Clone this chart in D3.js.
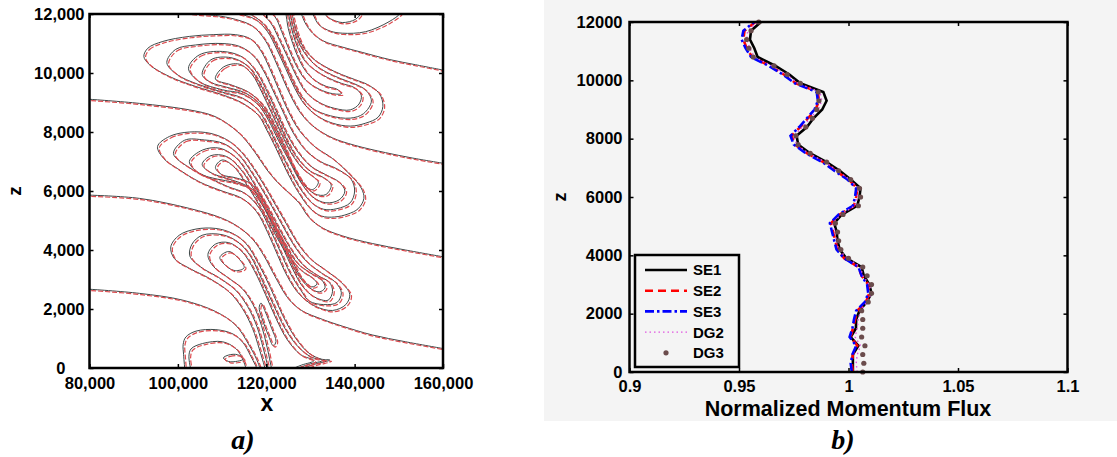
<!DOCTYPE html>
<html lang="en">
<head>
<meta charset="UTF-8">
<title>Contours and normalized momentum flux</title>
<script src="https://cdn.jsdelivr.net/npm/d3@7"></script>
<style>
  body { margin: 0; background: #fff; }
  svg { display: block; font-family: "Liberation Sans", Arial, Helvetica, sans-serif; }
  .tick text { font-weight: bold; font-size: 16.5px; fill: #000; }
  .tick line { stroke: #000; stroke-width: 1.5px; }
  .frame { fill: none; stroke: #000; stroke-width: 2.5px; }
  .cblack { fill: none; stroke: #3e4848; stroke-width: 1px; }
  .cred { fill: none; stroke: #dc4a4e; stroke-width: 1.2px; stroke-dasharray: 5,2; }
</style>
</head>
<body>
<script>
// ---- panel a: contour lines, [x km, z km] ----
var openContours = [
  [[80,9.11],[91.3,8.97],[102.6,8.75],[108,8.55],[111.5,8.25],[114.6,7.85],[117.5,7.3],[120,6.75],[122.5,6.3],[125,5.95],[127.4,5.6],[129.7,5.1],[132.7,4.75],[137.2,4.48],[144,4.22],[151.5,4.0],[160,3.77]],
  [[80,5.86],[91.3,5.75],[102.6,5.41],[110.1,5.07],[114,4.75],[117,4.35],[119.5,3.8],[122,3.1],[125,2.35],[128,1.95],[132.7,1.65],[137.2,1.42],[144,1.12],[151.5,0.89],[160,0.66]],
  [[80,2.67],[91.3,2.53],[101.1,2.3],[108.6,1.91],[113.1,1.45],[116.1,0.78],[117.8,0.3],[118.8,-0.1]],
  [[95,12.2],[99,12.1],[104,12.0],[108.5,11.95],[113,11.82],[117,11.58],[119.8,11.1],[121.8,10.5],[123.8,9.8],[125.8,9.15],[128,8.6],[131,8.15],[135,7.8],[140,7.55],[147,7.3],[153,7.12],[160,6.94]],
  [[127.5,12.2],[128.8,11.7],[130.5,11.35],[133,11.08],[137.2,10.88],[141.7,10.7],[147.8,10.46],[153.8,10.28],[160,10.1]],
  [[109,12.2],[113.5,12.02],[117.5,11.82],[120.3,11.4],[122.4,10.8],[124.4,10.15],[126.4,9.5],[128.6,8.95],[131.5,8.55],[135,8.3],[139,8.2],[142.5,8.3],[145.3,8.5],[146.4,8.87],[145.6,9.3],[143,9.6],[140.2,9.77],[137,9.95],[133.5,10.2],[130.5,10.5],[128.3,10.9],[126.9,11.4],[126,11.9],[125.6,12.2]],
  [[112,12.2],[116,12.02],[119.3,11.68],[121.7,11.15],[123.7,10.5],[125.6,9.87],[127.8,9.25],[130.5,8.8],[134.5,8.55],[139,8.47],[142,8.62],[143.8,9.05],[142.5,9.42],[140,9.63],[137,9.8],[133.6,10.03],[131,10.28],[129.3,10.55],[127.6,10.95],[126.4,11.4],[125.6,11.9],[125.25,12.2]],
  [[114.5,12.2],[118.5,12.05],[121,11.7],[122.9,11.15],[124.8,10.55],[126.8,9.9],[129,9.35],[132,9.0],[135.5,8.8],[139,8.75],[141,8.95],[141.5,9.25],[140,9.5],[137,9.65],[133.8,9.85],[131,10.1],[128.8,10.4],[127.3,10.8],[126.1,11.3],[125.3,11.8],[124.9,12.2]],
  [[119.5,12.2],[122,11.9],[123.5,11.4],[125,10.85],[126.8,10.25],[129,9.75],[132,9.45],[135,9.3],[137,9.3],[136,9.45],[133.5,9.55],[131,9.75],[129,10.05],[127.3,10.5],[126,11.0],[125,11.5],[124.3,12.2]],
  [[129.7,12.2],[130.5,12.0],[131.96,11.63],[134.5,11.42],[137.2,11.35],[142.5,11.4],[147.8,11.74],[150.4,12.03],[150.8,12.2]],
  [[132.7,12.2],[133.5,11.95],[134.5,11.84],[137.2,11.71],[140.2,11.82],[141.4,12.03],[141.6,12.2]],
  [[119.9,-0.1],[118.4,0.66],[116.9,1.34],[114.6,2.02],[111.6,2.58],[107.1,3.04],[102.6,3.38],[99.2,3.71],[98.4,4.11],[100.3,4.5],[104.1,4.71],[108.6,4.73],[112.4,4.56],[115.4,4.22],[118.4,3.49],[121,2.7],[123.7,1.79],[126.7,1.0],[129.7,0.5],[132.5,0.3],[134.4,0.27],[131,0.13],[127.5,-0.05]],
  [[120.6,-0.1],[119.3,0.68],[117.9,1.4],[115.8,2.08],[113,2.65],[109.2,3.07],[105.2,3.42],[102.7,3.8],[103.2,4.2],[105.5,4.5],[110,4.52],[113.5,4.28],[116.4,3.8],[119,3.0],[121.6,2.15],[124.2,1.35],[127.2,0.72],[130.2,0.37],[132.8,0.26],[129.5,0.12],[126.5,-0.05]],
  [[121.3,-0.1],[120.2,0.7],[118.9,1.45],[117,2.15],[114.5,2.7],[111,3.1],[108,3.45],[106.8,3.85],[108.5,4.2],[111.5,4.25],[114.5,3.95],[117.3,3.3],[119.8,2.5],[122.3,1.65],[124.8,0.95],[127.8,0.45],[130.8,0.25],[128,0.1],[125.5,-0.05]],
  [[118.2,-0.1],[116.5,0.4],[114.8,0.85],[112.5,1.15],[108.6,1.3],[104.1,1.25],[101.8,1.05],[101.2,0.8],[101.3,0.45],[101.6,-0.1]],
  [[115.6,-0.1],[114.6,0.32],[113.1,0.66],[110.1,0.89],[105.6,0.83],[103,0.65],[102.5,0.4],[103,-0.1]]
];

var closedContours = [
  [[92.3,10.56],[93.2,10.84],[96.6,11.07],[102.6,11.24],[108,11.3],[113,11.3],[116.5,11.15],[118.8,10.75],[120.8,10.15],[122.8,9.45],[125,8.7],[127.5,8.05],[131,7.5],[135,7.1],[139,6.55],[141.5,6.1],[142.1,5.75],[140.8,5.4],[138.5,5.22],[135.5,5.12],[132.5,5.15],[130,5.4],[127.3,5.95],[124.7,6.65],[122.2,7.45],[120,8.1],[118.3,8.55],[114.6,8.98],[110.1,9.26],[104.1,9.54],[98.1,9.88],[93.6,10.28]],
  [[97.5,10.35],[99.5,10.8],[104,10.95],[110,11.0],[114,10.9],[117,10.6],[119.3,10.1],[121.4,9.45],[123.6,8.75],[126,8.0],[128.8,7.4],[132.2,7.0],[136,6.75],[139.2,6.4],[140,6.0],[139,5.6],[136,5.4],[133,5.38],[130.3,5.6],[127.6,6.1],[125,6.8],[122.5,7.55],[120.2,8.25],[118.1,8.75],[114.6,9.15],[110.1,9.35],[104.5,9.62],[99.8,9.95]],
  [[102.4,10.16],[104.8,10.61],[110.1,10.73],[114.5,10.55],[117.5,10.1],[119.8,9.5],[122,8.8],[124.3,8.05],[126.8,7.4],[130,6.85],[133.5,6.55],[136.5,6.3],[137.8,6.0],[136.5,5.7],[133.5,5.6],[130.5,5.8],[127.8,6.3],[125.3,7.0],[122.8,7.7],[120.5,8.4],[118,8.95],[114.5,9.3],[110.1,9.43],[104.8,9.71]],
  [[105.5,9.95],[107.5,10.45],[112,10.52],[115.7,10.25],[118.3,9.72],[120.5,9.07],[122.7,8.37],[124.9,7.65],[127.3,7.07],[130,6.67],[133,6.45],[134.7,6.2],[133.5,5.88],[131,5.9],[128.5,6.25],[126.1,6.85],[123.6,7.57],[121.2,8.3],[118.7,8.92],[115.3,9.32],[111,9.52],[107.5,9.68]],
  [[108.5,9.8],[110.3,10.2],[113.9,10.3],[116.8,9.95],[119,9.35],[121.2,8.65],[123.4,7.95],[125.8,7.25],[128.3,6.75],[130.5,6.5],[131.8,6.3],[130.5,6.05],[128.5,6.2],[126.5,6.7],[124.3,7.45],[121.8,8.25],[119.3,8.9],[116,9.35],[112,9.6]],
  [[95.4,7.51],[98.1,7.85],[102.6,8.0],[107.5,7.95],[111.5,7.7],[114.5,7.3],[117,6.8],[119.5,6.2],[122,5.55],[124.5,4.9],[127,4.25],[130,3.7],[133.6,3.3],[137,2.9],[138.9,2.5],[138,2.15],[135,1.95],[131,2.1],[127.5,2.5],[124.8,3.1],[122.5,3.85],[120.3,4.6],[117.8,5.3],[114.5,5.75],[110,6.0],[105,6.3],[100,6.75],[96.8,7.1]],
  [[99,7.27],[101.5,7.72],[106,7.73],[110.5,7.6],[113.8,7.22],[116.3,6.72],[118.8,6.12],[121.3,5.47],[123.8,4.8],[126.3,4.15],[129.2,3.6],[132.5,3.22],[135.7,2.9],[137,2.55],[136,2.22],[133,2.15],[129.7,2.27],[127.9,2.62],[125.4,3.22],[123.1,3.97],[120.8,4.72],[118.4,5.42],[115.2,5.92],[111.3,6.15],[107,6.45],[102.5,6.8]],
  [[102.6,7.0],[105.6,7.39],[109.5,7.45],[113,7.15],[115.6,6.65],[118,6.05],[120.5,5.4],[123,4.7],[125.5,4.05],[128.3,3.5],[131.5,3.15],[134.3,2.9],[135,2.6],[134,2.3],[131,2.4],[128.3,2.75],[126,3.35],[123.7,4.1],[121.4,4.85],[119,5.55],[116,6.1],[112.5,6.3],[109,6.4],[104.8,6.6]],
  [[105.5,6.9],[107.5,7.2],[111,7.17],[114.3,6.72],[116.8,6.15],[119.3,5.5],[121.8,4.82],[124.3,4.18],[127,3.56],[130,3.22],[132.6,2.98],[133.3,2.72],[132,2.58],[129.7,2.73],[127.1,3.18],[124.9,3.8],[122.5,4.58],[120.2,5.3],[117.8,5.93],[115,6.22],[111,6.43],[107.5,6.62]],
  [[108.5,6.8],[110,7.05],[112.5,6.85],[115,6.35],[117.5,5.75],[120,5.1],[122.5,4.4],[125,3.8],[128,3.3],[130.5,3.05],[131.5,2.85],[130.3,2.75],[128,3.05],[126,3.6],[123.7,4.3],[121.3,5.05],[119,5.75],[116.5,6.25],[113,6.45],[110,6.55]],
  [[118.8,2.2],[119.8,1.9],[121.2,1.35],[122.2,0.9],[121.6,0.75],[120.5,1.1],[119,1.7],[118.4,2.05]],
  [[109.5,3.75],[111.5,3.95],[113.5,3.75],[115,3.4],[113,3.3],[111,3.45]],
  [[110.3,0.34],[111.5,0.44],[113.5,0.45],[114.8,0.3],[113.5,0.23],[111.5,0.22]]
];

var xTicksA = [80000, 100000, 120000, 140000, 160000];
var zTicksA = [0, 2000, 4000, 6000, 8000, 10000, 12000];

// ---- panel b: normalized momentum flux profiles ----
var zLevels = [0,300,600,900,1200,1500,1800,2100,2400,2700,3000,3300,3600,3900,4200,4500,4800,5100,5400,5700,6000,
  6300,6600,6900,7200,7500,7800,8100,8400,8700,9000,9300,9600,9900,10200,10500,10800,11100,11400,11700,12000];
var se1 = [1.002,1.002,1.002,1.0045,1.001,1.0034,1.0035,1.005,1.0083,1.0105,1.0095,1.007,1.006,0.999,0.996,0.995,0.9946,0.9935,0.997,1.004,1.005,
  1.0055,1.001,0.996,0.990,0.9824,0.977,0.9763,0.981,0.984,0.988,0.990,0.9885,0.978,0.973,0.9665,0.9585,0.957,0.955,0.9555,0.960];
var se2 = [1.002,1.0015,1.002,1.004,1.001,1.002,1.003,1.004,1.008,1.0095,1.009,1.006,1.0045,0.998,0.995,0.994,0.993,0.992,0.996,1.0025,1.0035,
  1.004,1.0,0.994,0.9885,0.981,0.9755,0.974,0.978,0.9815,0.985,0.9865,0.986,0.976,0.9705,0.964,0.956,0.9535,0.952,0.9525,0.9575];
var se3 = [1.0015,1.001,1.0018,1.0035,1.0005,1.0018,1.0025,1.0035,1.0075,1.009,1.0085,1.006,1.0045,0.998,0.9945,0.9935,0.9925,0.9915,0.9955,1.002,1.003,
  1.0035,0.9995,0.9935,0.988,0.9805,0.975,0.9735,0.9775,0.981,0.9845,0.986,0.9855,0.9755,0.970,0.9635,0.9555,0.953,0.9512,0.952,0.957];
var dg2 = [1.004,1.0035,1.004,1.0055,1.003,1.004,1.0045,1.0055,1.0085,1.0105,1.0095,1.0065,1.0055,0.9995,0.9955,0.9945,0.9938,0.993,0.9965,1.003,1.004,
  1.0045,1.0005,0.995,0.9893,0.9818,0.9763,0.975,0.979,0.9825,0.9862,0.9878,0.987,0.977,0.9715,0.965,0.957,0.955,0.9535,0.954,0.9585];
var dg3 = [1.0065,1.007,1.0065,1.0075,1.006,1.0065,1.0065,1.006,1.009,1.0105,1.0105,1.0085,1.0065,1.0,0.9965,0.9955,0.995,0.994,0.9975,1.0045,1.0055,
  1.005,1.001,0.9955,0.990,0.9825,0.977,0.976,0.9805,0.9835,0.9855,0.9865,0.9862,0.978,0.972,0.966,0.9565,0.9545,0.9535,0.9555,0.959];
var seriesNames = ["SE1", "SE2", "SE3", "DG2", "DG3"];
var xTicksB = [0.9, 0.95, 1, 1.05, 1.1];
var xTickLabelsB = ["0.9", "0.95", "1", "1.05", "1.1"];
var zTicksB = [0, 2000, 4000, 6000, 8000, 10000, 12000];

var W = 1117, H = 457;
var svg = d3.select("body").append("svg").attr("width", W).attr("height", H);
svg.append("rect").attr("width", W).attr("height", H).attr("fill", "#fff");

// ================= panel a =================
var pa = {left: 89.5, right: 443, top: 14, bottom: 368};
var xA = d3.scaleLinear().domain([80000, 160000]).range([pa.left, pa.right]);
var zA = d3.scaleLinear().domain([0, 12000]).range([pa.bottom, pa.top]);

svg.append("clipPath").attr("id", "clipA")
  .append("rect").attr("x", pa.left).attr("y", pa.top)
  .attr("width", pa.right - pa.left).attr("height", pa.bottom - pa.top);

var openLine = d3.line()
  .x(function(d){ return xA(d[0] * 1000); })
  .y(function(d){ return zA(d[1] * 1000); })
  .curve(d3.curveCatmullRom.alpha(0.5));
var closedLine = d3.line()
  .x(function(d){ return xA(d[0] * 1000); })
  .y(function(d){ return zA(d[1] * 1000); })
  .curve(d3.curveCatmullRomClosed.alpha(0.5));

var gc = svg.append("g").attr("clip-path", "url(#clipA)");
var gBlack = gc.append("g");
gBlack.selectAll("path.o").data(openContours).enter().append("path")
  .attr("class", "cblack").attr("d", openLine);
gBlack.selectAll("path.c").data(closedContours).enter().append("path")
  .attr("class", "cblack").attr("d", closedLine);
// second (red dashed) solution, nearly on top of the black one
var gRed = gc.append("g").attr("transform", "translate(1.7,1.3)");
gRed.selectAll("path.o").data(openContours).enter().append("path")
  .attr("class", "cred").attr("d", openLine);
gRed.selectAll("path.c").data(closedContours).enter().append("path")
  .attr("class", "cred").attr("d", closedLine);

var fmtA = d3.format(",");
svg.append("g").attr("transform", "translate(0," + pa.bottom + ")")
  .call(d3.axisBottom(xA).tickValues(xTicksA).tickFormat(fmtA).tickSizeInner(-4).tickSizeOuter(0).tickPadding(9));
svg.append("g").attr("transform", "translate(0," + pa.top + ")")
  .call(d3.axisTop(xA).tickValues(xTicksA).tickFormat("").tickSizeInner(-4).tickSizeOuter(0));
var ayA = svg.append("g").attr("transform", "translate(" + pa.left + ",0)")
  .call(d3.axisLeft(zA).tickValues(zTicksA).tickFormat(fmtA).tickSizeInner(-4).tickSizeOuter(0).tickPadding(5));
svg.append("g").attr("transform", "translate(" + pa.right + ",0)")
  .call(d3.axisRight(zA).tickValues(zTicksA).tickFormat("").tickSizeInner(-4).tickSizeOuter(0));
ayA.selectAll(".tick text").filter(function(d){ return d === 0; }).attr("dx", "-19");
svg.selectAll(".domain").remove();
svg.append("rect").attr("class", "frame").attr("x", pa.left).attr("y", pa.top)
  .attr("width", pa.right - pa.left).attr("height", pa.bottom - pa.top);

svg.append("text").attr("x", 267).attr("y", 411).attr("text-anchor", "middle")
  .style("font-weight", "bold").style("font-size", "23px").text("x");
svg.append("text").attr("transform", "translate(21,191) rotate(-90)").attr("text-anchor", "middle")
  .style("font-weight", "bold").style("font-size", "19px").text("z");
svg.append("text").attr("x", 243).attr("y", 449).attr("text-anchor", "middle")
  .style("font-family", "'Liberation Serif', 'Times New Roman', serif")
  .style("font-weight", "bold").style("font-style", "italic").style("font-size", "28px").text("a)");

// ================= panel b =================
var grey = "#f4f4f4";
svg.append("rect").attr("x", 544).attr("y", 0).attr("width", W - 544).attr("height", 421).attr("fill", grey);

var pb = {left: 629.5, right: 1067.5, top: 22, bottom: 372};
var xB = d3.scaleLinear().domain([0.9, 1.1]).range([pb.left, pb.right]);
var zB = d3.scaleLinear().domain([0, 12000]).range([pb.bottom, pb.top]);

var gb = svg.append("g");
gb.append("g").attr("transform", "translate(0," + pb.bottom + ")")
  .call(d3.axisBottom(xB).tickValues(xTicksB).tickFormat(function(d, i){ return xTickLabelsB[i]; })
    .tickSizeInner(-4).tickSizeOuter(0).tickPadding(8));
gb.append("g").attr("transform", "translate(0," + pb.top + ")")
  .call(d3.axisTop(xB).tickValues(xTicksB).tickFormat("").tickSizeInner(-4).tickSizeOuter(0));
gb.append("g").attr("transform", "translate(" + pb.left + ",0)")
  .call(d3.axisLeft(zB).tickValues(zTicksB).tickFormat(d3.format("d")).tickSizeInner(-4).tickSizeOuter(0).tickPadding(7));
gb.append("g").attr("transform", "translate(" + pb.right + ",0)")
  .call(d3.axisRight(zB).tickValues(zTicksB).tickFormat("").tickSizeInner(-4).tickSizeOuter(0));
gb.selectAll(".domain").remove();

var series = [
  {name: seriesNames[0], vals: se1, color: "#000000", width: 2.6, dash: null},
  {name: seriesNames[1], vals: se2, color: "#ff0000", width: 2.6, dash: "8,5"},
  {name: seriesNames[2], vals: se3, color: "#0000ff", width: 2.6, dash: "9,3,2.5,3"},
  {name: seriesNames[3], vals: dg2, color: "#e055e0", width: 1.4, dash: "1.5,3"}
];
var profile = d3.line()
  .x(function(d){ return xB(d[0]); })
  .y(function(d){ return zB(d[1]); });

series.forEach(function(s){
  var pts = s.vals.map(function(v, i){ return [v, zLevels[i]]; });
  gb.append("path").datum(pts)
    .attr("d", profile)
    .attr("fill", "none")
    .attr("stroke", s.color)
    .attr("stroke-width", s.width)
    .attr("stroke-dasharray", s.dash);
});
gb.selectAll("circle.dg3").data(dg3).enter().append("circle")
  .attr("class", "dg3")
  .attr("cx", function(d){ return xB(d); })
  .attr("cy", function(d, i){ return zB(zLevels[i]); })
  .attr("r", 2.6)
  .attr("fill", "#6b4c4c");

gb.append("rect").attr("class", "frame").attr("x", pb.left).attr("y", pb.top)
  .attr("width", pb.right - pb.left).attr("height", pb.bottom - pb.top);

// legend
var lg = gb.append("g").attr("transform", "translate(635,255)");
lg.append("rect").attr("width", 104).attr("height", 112).attr("fill", grey)
  .attr("stroke", "#000").attr("stroke-width", 2.5);
var rowY = function(i){ return 15 + i * 20.7; };
series.forEach(function(s, i){
  lg.append("line").attr("x1", 10).attr("x2", 52).attr("y1", rowY(i)).attr("y2", rowY(i))
    .attr("stroke", s.color).attr("stroke-width", s.width).attr("stroke-dasharray", s.dash);
});
lg.append("circle").attr("cx", 31).attr("cy", rowY(4)).attr("r", 2.6).attr("fill", "#6b4c4c");
lg.selectAll("text.lab").data(seriesNames).enter().append("text")
  .attr("class", "lab")
  .attr("x", 58).attr("y", function(d, i){ return rowY(i); }).attr("dy", "0.36em")
  .style("font-weight", "bold").style("font-size", "15px").text(function(d){ return d; });

svg.append("text").attr("x", 848).attr("y", 416).attr("text-anchor", "middle")
  .style("font-weight", "bold").style("font-size", "21.5px").text("Normalized Momentum Flux");
svg.append("text").attr("transform", "translate(566,197) rotate(-90)").attr("text-anchor", "middle")
  .style("font-weight", "bold").style("font-size", "18px").text("z");
svg.append("text").attr("x", 843).attr("y", 449).attr("text-anchor", "middle")
  .style("font-family", "'Liberation Serif', 'Times New Roman', serif")
  .style("font-weight", "bold").style("font-style", "italic").style("font-size", "28px").text("b)");
</script>
</body>
</html>
